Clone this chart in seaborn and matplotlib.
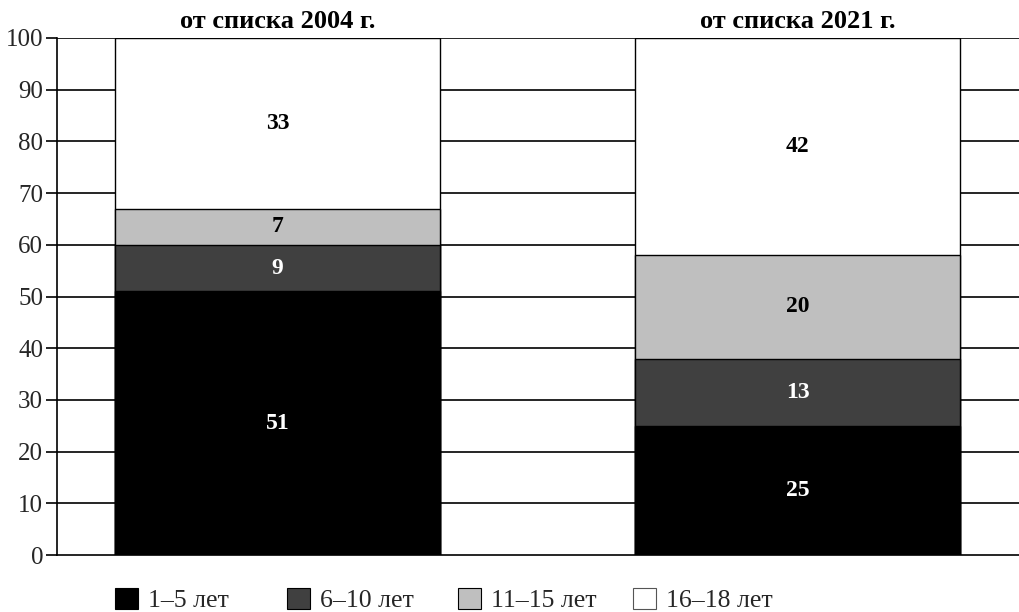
import matplotlib
matplotlib.use("Agg")
import matplotlib.pyplot as plt
import seaborn as sns
import pandas as pd
import numpy as np
from matplotlib.patches import Patch

categories = ["от списка 2004 г.", "от списка 2021 г."]
series_names = ["1–5 лет", "6–10 лет", "11–15 лет", "16–18 лет"]
v_1_5 = [51, 25]
v_6_10 = [9, 13]
v_11_15 = [7, 20]
v_16_18 = [33, 42]
colors = ["#000000", "#404040", "#bfbfbf", "#ffffff"]
label_colors = ["white", "white", "black", "black"]
yticks = [0, 10, 20, 30, 40, 50, 60, 70, 80, 90, 100]

sns.set_style("white")
plt.rcParams["font.family"] = ["Liberation Serif", "DejaVu Serif"]

series = [v_1_5, v_6_10, v_11_15, v_16_18]
cum = np.cumsum(np.array(series), axis=0)

fig = plt.figure(figsize=(10.19, 6.12), dpi=100)
ax = fig.add_axes([57 / 1019, 1 - 555 / 612, 1 - 57 / 1019, (555 - 38) / 612])

# draw cumulative totals from top layer down so the stack shows
for i in range(len(series) - 1, -1, -1):
    df = pd.DataFrame({"cat": categories, "val": cum[i]})
    sns.barplot(data=df, x="cat", y="val", ax=ax, color=colors[i],
                saturation=1, width=0.625, edgecolor="black", linewidth=1.0,
                zorder=3)

# segment labels
for j in range(len(categories)):
    bottom = 0
    for i, s in enumerate(series):
        ax.text(j, bottom + s[j] / 2, f"{s[j]}", ha="center", va="center",
                fontsize=17, fontweight="bold", color=label_colors[i], zorder=5)
        bottom += s[j]

# titles above bars
for j, c in enumerate(categories):
    ax.text(j, 101.0, c, ha="center", va="bottom", fontsize=19,
            fontweight="bold", color="black", clip_on=False)

ax.set_xlim(-0.424, 1.426)
ax.set_ylim(0, 100)
ax.set_yticks(yticks)
ax.set_yticklabels([str(t) for t in yticks], fontsize=18)
ax.set_xticks([])
ax.set_xlabel("")
ax.set_ylabel("")
for y in yticks[1:]:
    ax.axhline(y, color="black", lw=1.2, zorder=1)
ax.tick_params(axis="y", direction="out", length=8, width=1.2, color="black",
               pad=2, left=True)
for side in ["top", "right"]:
    ax.spines[side].set_visible(False)
for side in ["left", "bottom"]:
    ax.spines[side].set_color("black")
    ax.spines[side].set_linewidth(1.2)
    ax.spines[side].set_zorder(4)

legend_x = [115, 287, 458, 633]
for i in range(4):
    h = Patch(facecolor=colors[i], edgecolor="black" if i < 3 else "#555555",
              linewidth=0.8, label=series_names[i])
    fig.legend(handles=[h], loc="center left",
               bbox_to_anchor=(legend_x[i] / 1019, 1 - 600 / 612),
               frameon=False, fontsize=18.5, handlelength=0.88, handleheight=0.88,
               handletextpad=0.4, borderaxespad=0, borderpad=0)

fig.savefig("out.png", dpi=100)
